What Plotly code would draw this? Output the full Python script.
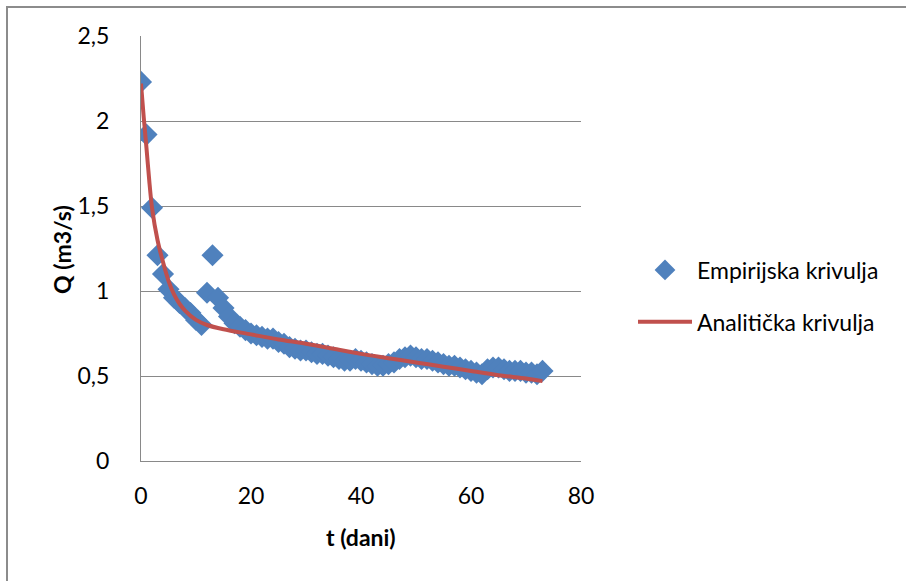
import plotly.graph_objects as go

t_emp = list(range(0, 74))
q_emp = [2.23, 1.92, 1.49, 1.21, 1.10, 1.01, 0.96, 0.93, 0.90, 0.87,
         0.83, 0.80, 0.99, 1.21, 0.96, 0.90, 0.85, 0.81, 0.79, 0.77,
         0.75, 0.74, 0.73, 0.72, 0.72, 0.70, 0.69, 0.67, 0.66, 0.65,
         0.65, 0.64, 0.63, 0.63, 0.62, 0.61, 0.60, 0.59, 0.59, 0.60,
         0.59, 0.58, 0.57, 0.56, 0.56, 0.57, 0.58, 0.60, 0.61, 0.62,
         0.61, 0.60, 0.60, 0.59, 0.58, 0.57, 0.56, 0.56, 0.55, 0.54,
         0.53, 0.52, 0.51, 0.54, 0.55, 0.55, 0.54, 0.53, 0.53, 0.53,
         0.52, 0.52, 0.51, 0.53]

# Analytical curve
t_an = [0, 0.5, 1, 1.5, 2, 3, 4, 5, 6, 7, 8, 10, 12, 15, 20, 25, 30, 35,
        40, 45, 50, 55, 60, 65, 70, 73]
q_an = [2.22, 2.02, 1.84, 1.65, 1.49, 1.30, 1.17, 1.06, 0.98, 0.925, 0.885,
        0.83, 0.80, 0.775, 0.745, 0.715, 0.69, 0.66, 0.63, 0.605, 0.58,
        0.555, 0.53, 0.505, 0.485, 0.47]

x_ticks = [0, 20, 40, 60, 80]
y_ticks = [0, 0.5, 1, 1.5, 2, 2.5]

x_title = "t (dani)"
y_title = "Q (m3/s)"

FONT = "Lato"

fig = go.Figure()
fig.add_trace(go.Scatter(
    x=t_emp, y=q_emp, mode="markers", name="Empirijska krivulja",
    legendgroup="a",
    marker=dict(symbol="diamond", size=17, color="#4F81BD",
                line=dict(width=0)),
))
fig.add_trace(go.Scatter(
    x=t_an, y=q_an, mode="lines", name="Analitička krivulja",
    legendgroup="b",
    line=dict(color="#C0504D", width=4, shape="spline", smoothing=0.8),
))

L, R, T, B = 141, 581, 36, 461
W, H = 906, 581
pw, ph = R - L, B - T

def px_x(p):
    return (p - L) / pw

def px_y(p):
    return (B - p) / ph

fig.update_layout(
    width=W, height=H,
    margin=dict(l=L, r=W - R, t=T, b=H - B, pad=0),
    paper_bgcolor="white", plot_bgcolor="white",
    separators=",.",
    font=dict(family=FONT, size=23, color="#000000"),
    showlegend=True,
    legend=dict(
        x=px_x(633), y=px_y(296), xanchor="left", yanchor="middle",
        font=dict(family=FONT, size=23, color="#000000"),
        itemwidth=54, tracegroupgap=19, bgcolor="rgba(0,0,0,0)",
    ),
    shapes=[
        dict(type="line", xref="paper", yref="paper",
             x0=px_x(6), x1=px_x(906), y0=px_y(7), y1=px_y(7),
             line=dict(color="#8c8c8c", width=2)),
        dict(type="line", xref="paper", yref="paper",
             x0=px_x(7), x1=px_x(7), y0=px_y(6), y1=px_y(581),
             line=dict(color="#8c8c8c", width=2)),
    ],
    annotations=[
        dict(text="<b>" + x_title + "</b>", xref="paper", yref="paper",
             x=px_x(361), y=px_y(537), xanchor="center", yanchor="middle",
             showarrow=False, font=dict(family=FONT, size=23)),
        dict(text="<b>" + y_title + "</b>", xref="paper", yref="paper",
             x=px_x(62), y=px_y(250), xanchor="center", yanchor="middle",
             textangle=-90, showarrow=False,
             font=dict(family=FONT, size=23)),
    ],
)

fig.update_xaxes(
    range=[0, 80], tickvals=x_ticks, showgrid=False, zeroline=False,
    showline=True, linecolor="#898989", linewidth=1,
    ticks="outside", ticklen=14, tickcolor="rgba(0,0,0,0)",
    tickfont=dict(family=FONT, size=23),
)
fig.update_yaxes(
    range=[0, 2.5], tickvals=y_ticks, showgrid=True, gridcolor="#898989",
    gridwidth=1, zeroline=False,
    showline=True, linecolor="#898989", linewidth=1,
    ticks="outside", ticklen=26, tickcolor="rgba(0,0,0,0)",
    tickfont=dict(family=FONT, size=23),
)

fig.write_html("out.html", config={"displayModeBar": False},
               post_script="document.body.style.margin='0';")
